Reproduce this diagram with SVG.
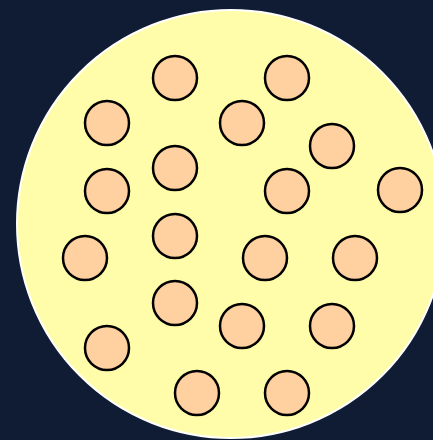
<svg xmlns="http://www.w3.org/2000/svg" width="433" height="440" viewBox="0 0 433 440">
<style>
.n{fill:#ffd0a0;stroke:#000;stroke-width:2.5}
</style>
<rect x="0" y="0" width="433" height="440" fill="#0f1c33"/>
<g id="area"><circle cx="231" cy="224" r="214" fill="#fffcaa" stroke="#ffffff" stroke-width="2"/></g>
<g id="n1"><circle class="n" cx="175" cy="78" r="22"/></g>
<g id="n2"><circle class="n" cx="287" cy="78" r="22"/></g>
<g id="n3"><circle class="n" cx="107" cy="123" r="22"/></g>
<g id="n4"><circle class="n" cx="242" cy="123" r="22"/></g>
<g id="n5"><circle class="n" cx="332" cy="146" r="22"/></g>
<g id="n6"><circle class="n" cx="175" cy="168" r="22"/></g>
<g id="n7"><circle class="n" cx="107" cy="191" r="22"/></g>
<g id="n8"><circle class="n" cx="287" cy="191" r="22"/></g>
<g id="n9"><circle class="n" cx="400" cy="190" r="22"/></g>
<g id="n10"><circle class="n" cx="175" cy="236" r="22"/></g>
<g id="n11"><circle class="n" cx="85" cy="258" r="22"/></g>
<g id="n12"><circle class="n" cx="265" cy="258" r="22"/></g>
<g id="n13"><circle class="n" cx="355" cy="258" r="22"/></g>
<g id="n14"><circle class="n" cx="175" cy="303" r="22"/></g>
<g id="n15"><circle class="n" cx="242" cy="326" r="22"/></g>
<g id="n16"><circle class="n" cx="332" cy="326" r="22"/></g>
<g id="n17"><circle class="n" cx="107" cy="348" r="22"/></g>
<g id="n18"><circle class="n" cx="197" cy="393" r="22"/></g>
<g id="n19"><circle class="n" cx="287" cy="393" r="22"/></g>
<g id="connectors"></g>
</svg>
